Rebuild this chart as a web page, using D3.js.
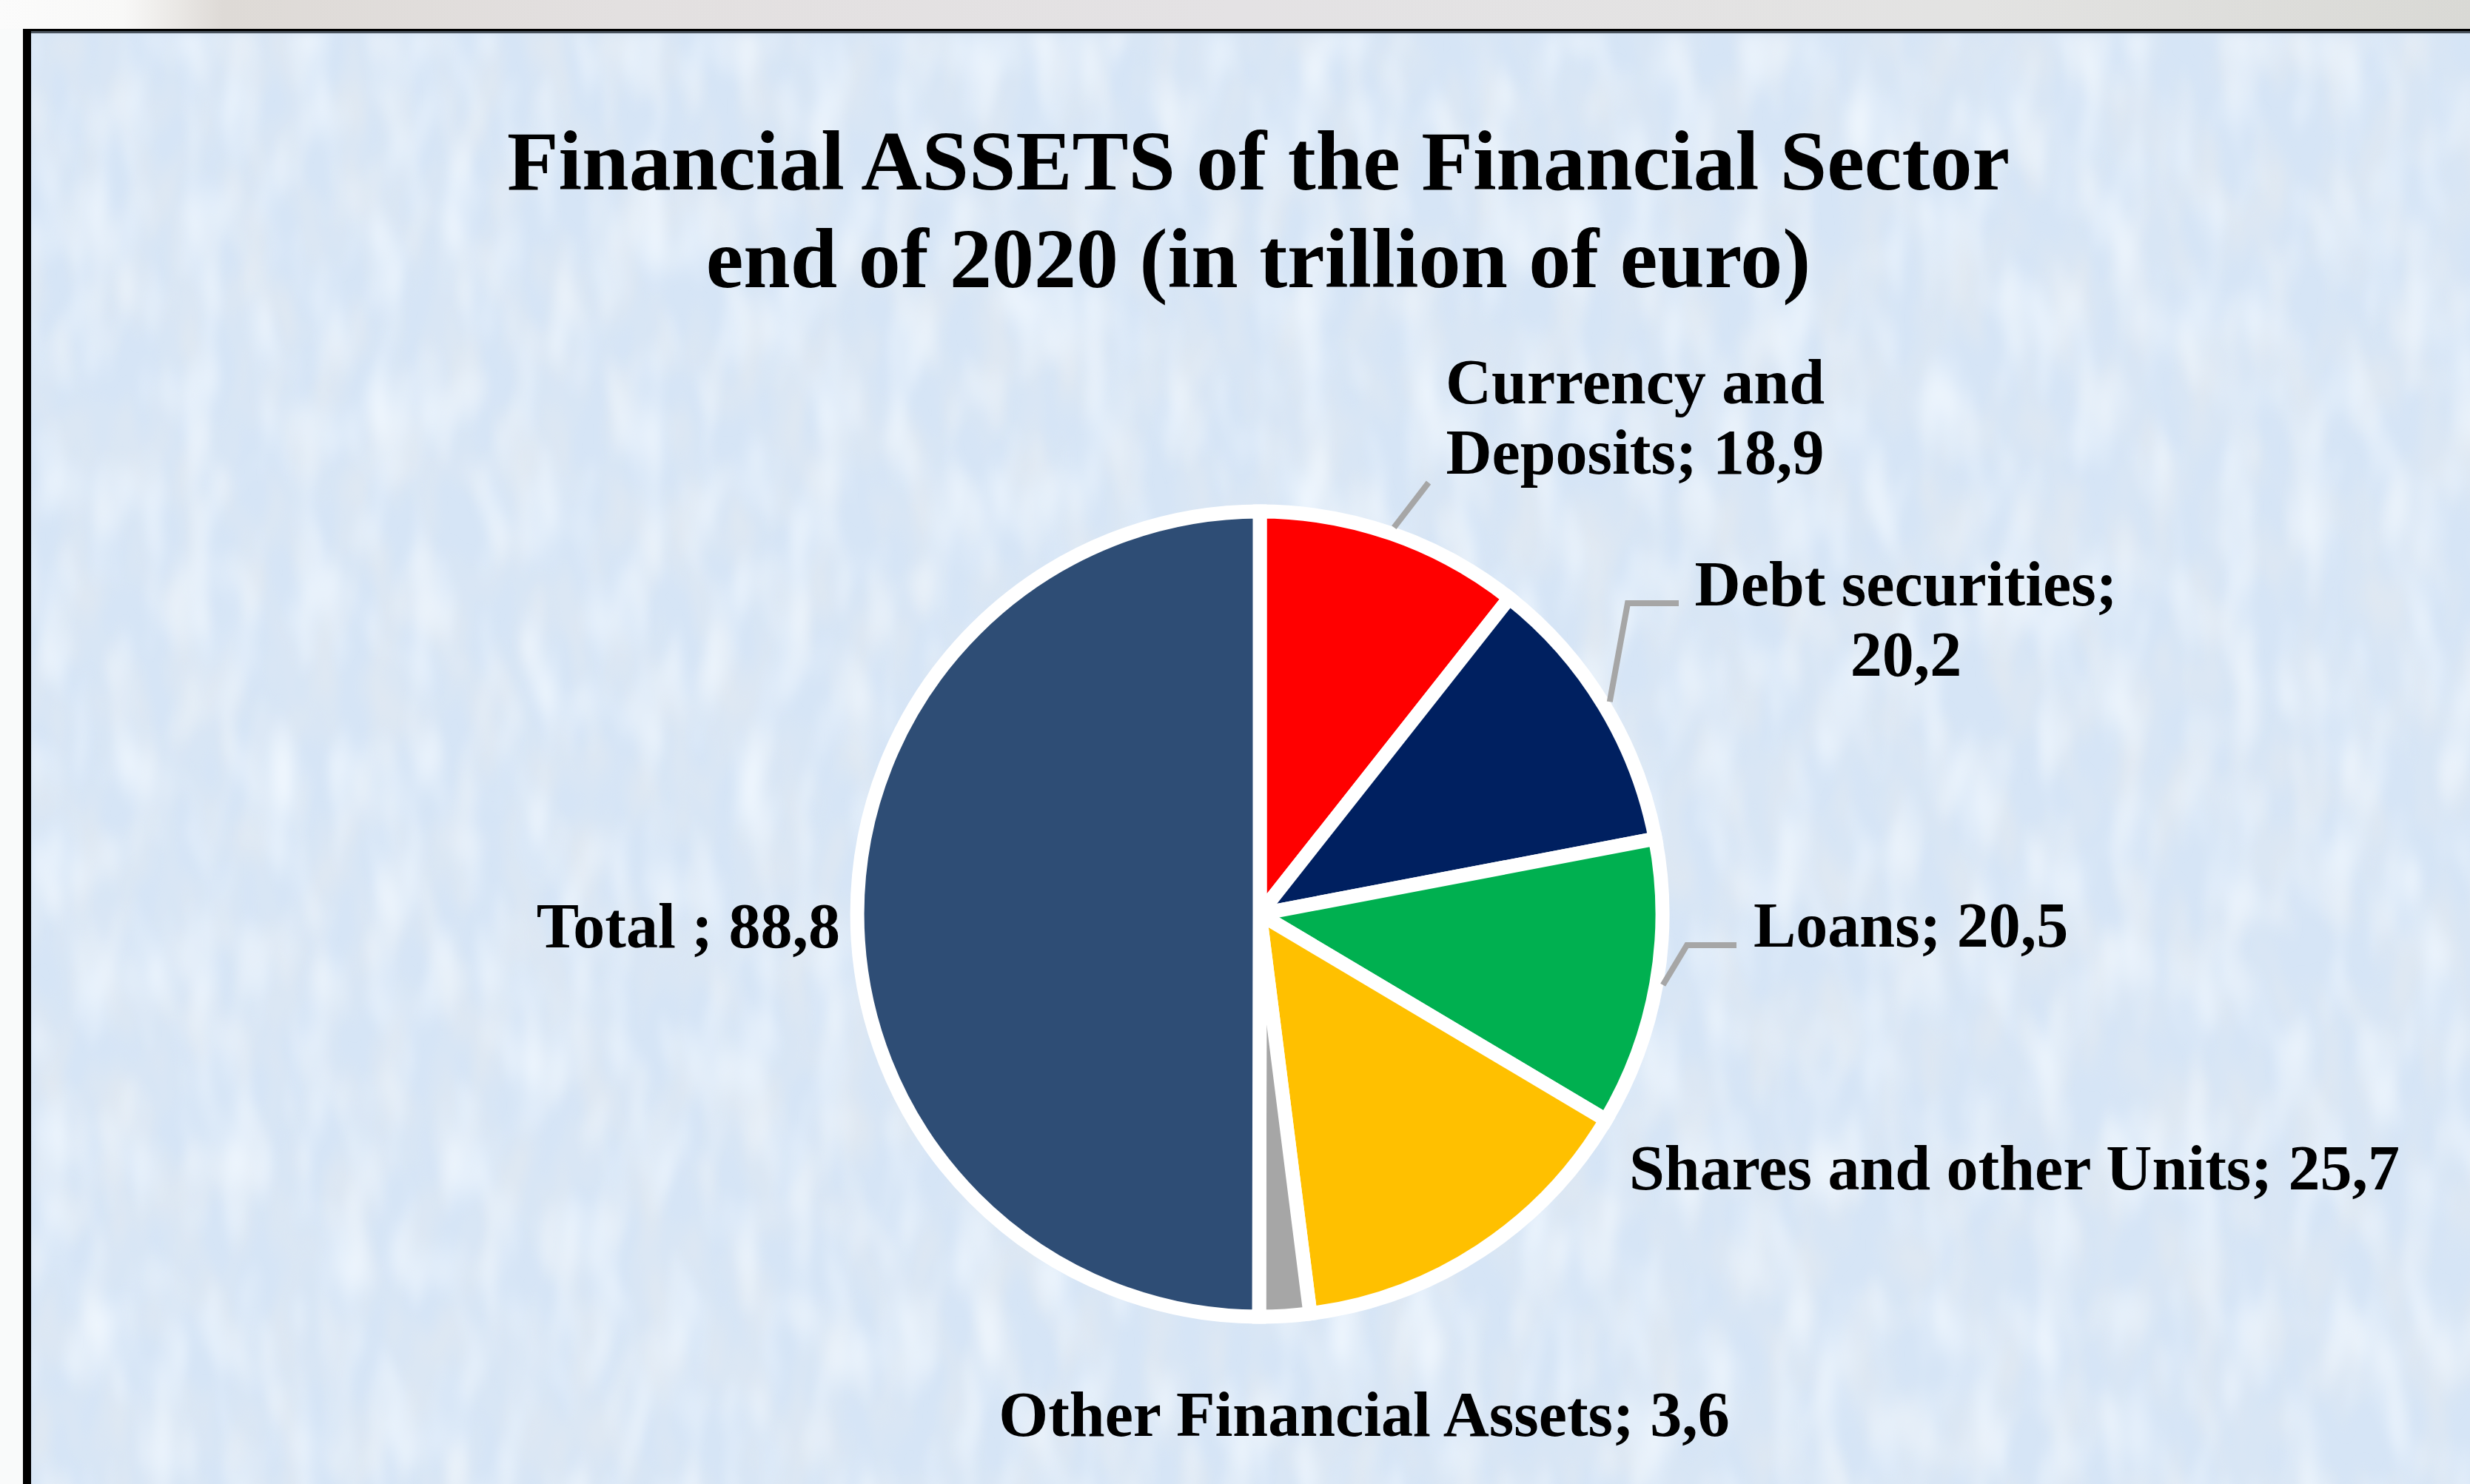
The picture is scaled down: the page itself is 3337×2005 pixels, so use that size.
<!DOCTYPE html>
<html>
<head>
<meta charset="utf-8">
<script src="https://cdn.jsdelivr.net/npm/d3@7"></script>
<style>
  html, body { margin: 0; padding: 0; background: #fff; overflow: hidden; }
  svg { display: block; }
</style>
</head>
<body>
<svg id="chart" width="3337" height="2005"></svg>
<script>
// values in trillion of euro, end of 2020
const categories = ['Currency and Deposits', 'Debt securities', 'Loans',
    'Shares and other Units', 'Other Financial Assets', 'Total '];
const values = [18.9, 20.2, 20.5, 25.7, 3.6, 88.8];
const colors = ['#ff0000', '#002060', '#00b050', '#ffc000', '#a6a6a6', '#2e4d75'];
const titleLines = ['Financial ASSETS of the Financial Sector', 'end of 2020 (in trillion of euro)'];

// where each data label sits, and the bend points of its leader line
const labelLayout = [
    {x: 2209, y: 545, anchor: 'middle', wrap: 14, leader: [[1930, 652]]},
    {x: 2575, y: 818, anchor: 'middle', wrap: 16, leader: [[2199, 815], [2268, 815]]},
    {x: 2369, y: 1279, anchor: 'start', wrap: 40, leader: [[2279, 1277], [2346, 1277]]},
    {x: 2201, y: 1607, anchor: 'start', wrap: 40, leader: null},
    {x: 1843, y: 1940, anchor: 'middle', wrap: 40, leader: null},
    {x: 1135, y: 1280, anchor: 'end', wrap: 40, leader: null}
];

const W = 3337, H = 2005;
const cx = 1702, cy = 1235, R = 544;
const font = "'Liberation Serif', 'Times New Roman', Times, serif";

const fmt = d3.formatLocale({decimal: ',', thousands: '.', grouping: [3], currency: ['', '']}).format('.1f');

const svg = d3.select('#chart');
const defs = svg.append('defs');

// strip above the frame
const topGrad = defs.append('linearGradient').attr('id', 'topGrad');
[[0, '#fbfbfb'], [0.05, '#f8f8f7'], [0.09, '#dedad6'], [0.25, '#e3e0e0'],
 [0.5, '#e4e2e4'], [0.8, '#e3e3e2'], [1, '#d9d9d5']].forEach(s => {
    topGrad.append('stop').attr('offset', s[0]).attr('stop-color', s[1]);
});

// mottled paper texture: darker blotches and lighter flecks
function mottle(id, freq, seed, rgb, a, b) {
    const f = defs.append('filter').attr('id', id)
        .attr('x', 0).attr('y', 0).attr('width', 1).attr('height', 1);
    f.append('feTurbulence')
        .attr('type', 'fractalNoise')
        .attr('baseFrequency', freq)
        .attr('numOctaves', 2)
        .attr('seed', seed);
    f.append('feColorMatrix')
        .attr('type', 'matrix')
        .attr('values', `0 0 0 0 ${rgb[0]}  0 0 0 0 ${rgb[1]}  0 0 0 0 ${rgb[2]}  ${a} 0 0 0 ${b}`);
    f.append('feGaussianBlur').attr('stdDeviation', '5 8');
    f.append('feComposite').attr('in2', 'SourceGraphic').attr('operator', 'in');
}
mottle('dark', '0.022 0.009', 7, [0.74, 0.81, 0.89], 2.4, -0.93);
mottle('light', '0.02 0.008', 23, [0.87, 0.93, 0.99], 2.0, -0.88);

svg.append('rect').attr('width', W).attr('height', H).attr('fill', '#f9fafa');
svg.append('rect').attr('width', W).attr('height', 39).attr('fill', 'url(#topGrad)');

svg.append('rect').attr('x', 31).attr('y', 39).attr('width', W).attr('height', H).attr('fill', '#000');
svg.append('rect').attr('x', 42).attr('y', 42).attr('width', W).attr('height', H).attr('fill', '#4a535d');
svg.append('rect').attr('x', 42).attr('y', 45).attr('width', W).attr('height', H).attr('fill', '#d6e5f6');
svg.append('rect').attr('x', 42).attr('y', 45).attr('width', W).attr('height', H)
    .attr('fill', '#fff').attr('filter', 'url(#dark)');
svg.append('rect').attr('x', 42).attr('y', 45).attr('width', W).attr('height', H)
    .attr('fill', '#fff').attr('filter', 'url(#light)');

// title
svg.append('text')
    .attr('x', 1700)
    .attr('text-anchor', 'middle')
    .attr('font-family', font)
    .attr('font-weight', 'bold')
    .attr('font-size', 114)
    .attr('fill', '#000')
    .selectAll('tspan')
    .data(titleLines)
    .enter().append('tspan')
    .attr('x', 1700)
    .attr('y', (d, i) => 256 + i * 132)
    .text(d => d);

// pie
const pie = d3.pie().sort(null).value(d => d);
const arcs = pie(values);
const arc = d3.arc().innerRadius(0).outerRadius(R);
const edge = d3.arc().innerRadius(R + 9).outerRadius(R + 9);

const g = svg.append('g').attr('transform', `translate(${cx},${cy})`);

g.selectAll('path.slice')
    .data(arcs)
    .enter().append('path')
    .attr('class', 'slice')
    .attr('d', arc)
    .attr('fill', (d, i) => colors[i])
    .attr('stroke', '#fff')
    .attr('stroke-width', 19)
    .attr('stroke-linejoin', 'miter');

// leader lines
const line = d3.line();
svg.selectAll('path.leader')
    .data(arcs.filter((d, i) => labelLayout[i].leader))
    .enter().append('path')
    .attr('class', 'leader')
    .attr('d', d => {
        const c = edge.centroid(d);
        const pts = [[cx + c[0], cy + c[1]]].concat(labelLayout[d.index].leader);
        return line(pts);
    })
    .attr('fill', 'none')
    .attr('stroke', '#a6a6a6')
    .attr('stroke-width', 8);

// data labels
function wrap(str, max) {
    const words = str.split(' ');
    const rows = [];
    let cur = '';
    words.forEach(w => {
        const next = cur ? cur + ' ' + w : w;
        if (next.length > max && cur) { rows.push(cur); cur = w; }
        else cur = next;
    });
    rows.push(cur);
    return rows;
}

const labels = svg.selectAll('text.label')
    .data(arcs)
    .enter().append('text')
    .attr('class', 'label')
    .attr('font-family', font)
    .attr('font-weight', 'bold')
    .attr('font-size', 86)
    .attr('fill', '#000')
    .attr('text-anchor', d => labelLayout[d.index].anchor);

labels.selectAll('tspan')
    .data(d => {
        const L = labelLayout[d.index];
        return wrap(categories[d.index] + '; ' + fmt(d.data), L.wrap)
            .map((t, i) => ({t, x: L.x, y: L.y + i * 95}));
    })
    .enter().append('tspan')
    .attr('x', d => d.x)
    .attr('y', d => d.y)
    .text(d => d.t);
</script>
</body>
</html>
